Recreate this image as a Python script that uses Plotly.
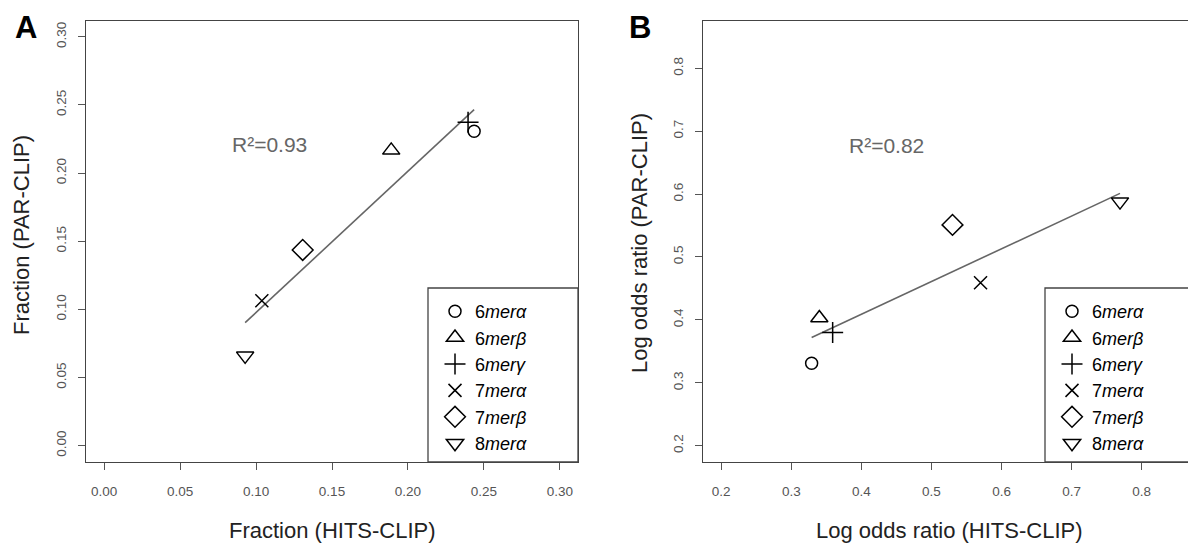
import numpy as np
import plotly.graph_objects as go

# ---------------- data ----------------
legend_labels = ["6<i>merα</i>", "6<i>merβ</i>", "6<i>merγ</i>",
                 "7<i>merα</i>", "7<i>merβ</i>", "8<i>merα</i>"]

# Panel A: fraction
frac_hits = [0.2436, 0.1890, 0.2396, 0.1038, 0.1307, 0.0928]
frac_par = [0.2307, 0.2167, 0.2373, 0.1063, 0.1436, 0.0659]

# Panel B: log odds ratio
lor_hits = [0.329, 0.340, 0.359, 0.570, 0.530, 0.769]
lor_par = [0.331, 0.403, 0.380, 0.459, 0.551, 0.588]

ticks_a = [0.00, 0.05, 0.10, 0.15, 0.20, 0.25, 0.30]
ticks_b = [0.2, 0.3, 0.4, 0.5, 0.6, 0.7, 0.8]

r2_labels = ["R²=0.93", "R²=0.82"]

# ---------------- styling ----------------
OFF = 8                      # page body margin
W, H = 1196 - OFF, 548 - OFF
symbols = ["circle-open", "triangle-up-open", "cross-thin-open",
           "x-thin-open", "diamond-open", "triangle-down-open"]
sizes = [12, 15, 15, 13, 16, 15]
FONT = "Liberation Sans, Arial, sans-serif"
FRAME = "#444444"
TICKC = "#555555"

def px_x(p):
    return (p - OFF) / W

def px_y(p):
    return 1 - (p - OFF) / H

fig = go.Figure()

panels = [
    dict(x=frac_hits, y=frac_par, xa="x", ya="y", legend="legend"),
    dict(x=lor_hits, y=lor_par, xa="x2", ya="y2", legend="legend2"),
]

for p in panels:
    xs = np.array(p["x"])
    ys = np.array(p["y"])
    slope, intercept = np.polyfit(xs, ys, 1)
    lx = np.array([xs.min(), xs.max()])
    fig.add_trace(go.Scatter(
        x=lx, y=slope * lx + intercept, mode="lines",
        line=dict(color="#666666", width=1.6),
        xaxis=p["xa"], yaxis=p["ya"], showlegend=False, hoverinfo="skip"))
    for i, name in enumerate(legend_labels):
        fig.add_trace(go.Scatter(
            x=[p["x"][i]], y=[p["y"][i]], mode="markers", name=name,
            marker=dict(symbol=symbols[i], size=sizes[i], color="black",
                        line=dict(color="black", width=1.5)),
            xaxis=p["xa"], yaxis=p["ya"], legend=p["legend"]))

common_axis = dict(
    showline=True, mirror=True, linecolor=FRAME, linewidth=1.3,
    ticks="outside", ticklen=7, tickwidth=1, tickcolor=TICKC,
    showgrid=False, zeroline=False, automargin=False,
    tickfont=dict(family=FONT, size=13.5, color=TICKC),
)

ydom = [px_y(462), px_y(20.5)]
legend_common = dict(
    yanchor="top", xanchor="left", bgcolor="rgba(0,0,0,0)", borderwidth=0,
    tracegroupgap=0, font=dict(family=FONT, size=18, color="black"),
    itemclick=False, itemdoubleclick=False)

fig.update_layout(
    width=W, height=H,
    margin=dict(l=0, r=0, t=0, b=0),
    paper_bgcolor="white", plot_bgcolor="white",
    xaxis=dict(domain=[px_x(86), px_x(578)], range=[-0.012, 0.312],
               tickvals=ticks_a, tickformat=".2f", anchor="y",
               ticklabelstandoff=10, **common_axis),
    yaxis=dict(domain=ydom, range=[-0.012, 0.312], tickvals=ticks_a,
               tickformat=".2f", tickangle=-90, anchor="x",
               ticklabelstandoff=6, **common_axis),
    xaxis2=dict(domain=[px_x(703), px_x(1195)], range=[0.174, 0.876],
                tickvals=ticks_b, tickformat=".1f", anchor="y2",
                ticklabelstandoff=10, **common_axis),
    yaxis2=dict(domain=ydom, range=[0.174, 0.876], tickvals=ticks_b,
                tickformat=".1f", tickangle=-90, anchor="x2",
                ticklabelstandoff=6, **common_axis),
    legend=dict(x=px_x(435), y=px_y(293), **legend_common),
    legend2=dict(x=px_x(1052), y=px_y(293), **legend_common),
    showlegend=True,
)

# legend frames
for x0, x1 in [(428, 578), (1045, 1195)]:
    fig.add_shape(type="rect", xref="paper", yref="paper",
                  x0=px_x(x0), x1=px_x(x1), y0=px_y(462), y1=px_y(288),
                  line=dict(color=FRAME, width=1.3), fillcolor="rgba(0,0,0,0)",
                  layer="below")

# R² annotations (data coordinates)
r2_font = dict(family=FONT, size=21, color="#666666")
fig.add_annotation(x=0.109, y=0.221, xref="x", yref="y", text=r2_labels[0],
                   showarrow=False, font=r2_font, xanchor="center", yanchor="middle")
fig.add_annotation(x=0.436, y=0.678, xref="x2", yref="y2", text=r2_labels[1],
                   showarrow=False, font=r2_font, xanchor="center", yanchor="middle")

# axis titles
title_font = dict(family=FONT, size=22, color="#222222")
def paper_text(x, y, text, font, angle=0):
    fig.add_annotation(x=px_x(x), y=px_y(y), xref="paper", yref="paper",
                       text=text, showarrow=False, textangle=angle, font=font,
                       xanchor="center", yanchor="middle")

paper_text(332, 530, "Fraction (HITS-CLIP)", title_font)
paper_text(21, 235, "Fraction (PAR-CLIP)", title_font, -90)
paper_text(949, 530, "Log odds ratio (HITS-CLIP)", title_font)
paper_text(640, 243, "Log odds ratio (PAR-CLIP)", title_font, -90)

# panel letters
letter_font = dict(family=FONT, size=31, color="black")
paper_text(26, 28, "<b>A</b>", letter_font)
paper_text(640, 27, "<b>B</b>", letter_font)

fig.write_html("out.html")
